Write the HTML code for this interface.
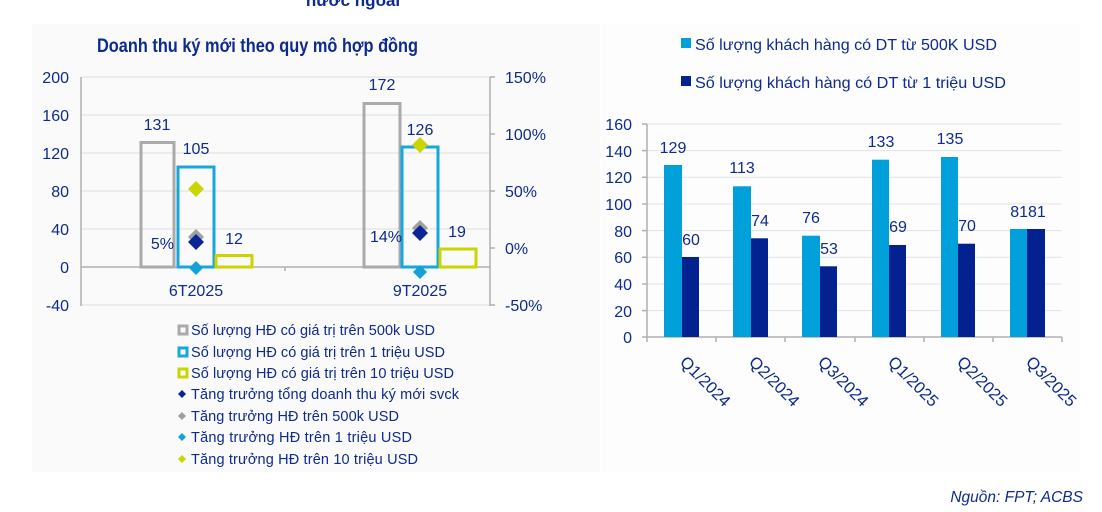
<!DOCTYPE html>
<html><head><meta charset="utf-8"><style>
html,body{margin:0;padding:0;background:#fff;}
svg{display:block;}
text{font-family:"Liberation Sans","DejaVu Sans",sans-serif;fill:#0d2a8c;}
</style></head><body>
<svg width="1102" height="512" viewBox="0 0 1102 512" xmlns="http://www.w3.org/2000/svg">
<rect x="32" y="24" width="568" height="448" fill="#fafafb"/>
<rect x="602" y="24" width="478" height="448" fill="#fdfdfe"/>
<text x="353" y="6" font-size="17" font-weight="bold" text-anchor="middle">nước ngoài</text>
<text x="97" y="52" font-size="19" font-weight="bold" textLength="321" lengthAdjust="spacingAndGlyphs">Doanh thu ký mới theo quy mô hợp đồng</text>

<!-- left grid -->
<g stroke="#dedede" stroke-width="1">
<line x1="81" y1="77" x2="490" y2="77"/><line x1="81" y1="115" x2="490" y2="115"/>
<line x1="81" y1="153" x2="490" y2="153"/><line x1="81" y1="191" x2="490" y2="191"/>
<line x1="81" y1="229" x2="490" y2="229"/><line x1="81" y1="305" x2="490" y2="305"/>
</g>
<g stroke="#b0b0b0" stroke-width="1.5">
<line x1="81" y1="77" x2="81" y2="306"/><line x1="490" y1="77" x2="490" y2="306"/>
<line x1="81" y1="267" x2="490" y2="267"/><line x1="285" y1="267" x2="285" y2="271"/>
<line x1="490" y1="77" x2="495" y2="77"/><line x1="490" y1="134" x2="495" y2="134"/>
<line x1="490" y1="191" x2="495" y2="191"/><line x1="490" y1="248" x2="495" y2="248"/>
<line x1="490" y1="305" x2="495" y2="305"/>
</g>
<g font-size="16" text-anchor="end">
<text x="69" y="83">200</text><text x="69" y="121">160</text><text x="69" y="159">120</text>
<text x="69" y="197">80</text><text x="69" y="235">40</text><text x="69" y="273">0</text><text x="69" y="311">-40</text>
</g>
<g font-size="16">
<text x="505" y="83">150%</text><text x="505" y="140">100%</text><text x="505" y="197">50%</text>
<text x="505" y="254">0%</text><text x="505" y="311">-50%</text>
</g>
<!-- bars -->
<g fill="none" stroke-width="3">
<rect x="141" y="142.5" width="33" height="124.5" stroke="#aaaaaa"/>
<rect x="178" y="167" width="36" height="100" stroke="#17a6de"/>
<rect x="216" y="255.5" width="36" height="11.5" stroke="#cbd600"/>
<rect x="364" y="103.5" width="36" height="163.5" stroke="#aaaaaa"/>
<rect x="402" y="147" width="36" height="120" stroke="#17a6de"/>
<rect x="440" y="249" width="36" height="18" stroke="#cbd600"/>
</g>
<g font-size="16" text-anchor="middle">
<text x="157" y="130">131</text><text x="196" y="154">105</text><text x="234" y="244">12</text>
<text x="382" y="90">172</text><text x="420" y="135">126</text><text x="457" y="237">19</text>
<text x="174" y="249" text-anchor="end">5%</text><text x="402" y="242" text-anchor="end">14%</text>
<text x="196" y="296">6T2025</text><text x="420" y="296">9T2025</text>
</g>
<!-- diamonds -->
<g>
<path d="M196 181 l8 8 -8 8 -8 -8z" fill="#cbd600"/>
<path d="M196 229 l8 8 -8 8 -8 -8z" fill="#a0a0a0"/>
<path d="M196 234 l8 8 -8 8 -8 -8z" fill="#0b2596"/>
<path d="M196 261 l7 7 -7 7 -7 -7z" fill="#15a1d8"/>
<path d="M420 137 l8 8 -8 8 -8 -8z" fill="#cbd600"/>
<path d="M420 220 l8 8 -8 8 -8 -8z" fill="#a0a0a0"/>
<path d="M420 225 l8 8 -8 8 -8 -8z" fill="#0b2596"/>
<path d="M420 265 l7 7 -7 7 -7 -7z" fill="#15a1d8"/>
</g>
<!-- left legend -->
<g font-size="14.5" lengthAdjust="spacingAndGlyphs">
<rect x="179" y="326" width="8" height="8" fill="none" stroke="#aaaaaa" stroke-width="3"/>
<rect x="179" y="348" width="8" height="8" fill="none" stroke="#17a6de" stroke-width="3"/>
<rect x="179" y="369" width="8" height="8" fill="none" stroke="#cbd600" stroke-width="3"/>
<path d="M182 390 l4 4 -4 4 -4 -4z" fill="#0b2596"/>
<path d="M182 412 l4 4 -4 4 -4 -4z" fill="#a0a0a0"/>
<path d="M182 433 l4 4 -4 4 -4 -4z" fill="#15a1d8"/>
<path d="M182 455 l4 4 -4 4 -4 -4z" fill="#cbd600"/>
<text x="191" y="335" textLength="244">Số lượng HĐ có giá trị trên 500k USD</text>
<text x="191" y="357" textLength="254">Số lượng HĐ có giá trị trên 1 triệu USD</text>
<text x="191" y="378" textLength="263">Số lượng HĐ có giá trị trên 10 triệu USD</text>
<text x="191" y="399" textLength="268">Tăng trưởng tổng doanh thu ký mới svck</text>
<text x="191" y="421" textLength="208">Tăng trưởng HĐ trên 500k USD</text>
<text x="191" y="442" textLength="221">Tăng trưởng HĐ  trên 1 triệu USD</text>
<text x="191" y="464" textLength="227">Tăng trưởng HĐ trên 10 triệu USD</text>
</g>

<!-- right legend -->
<rect x="681" y="38" width="10" height="10" fill="#00a0da"/>
<rect x="681" y="76" width="10" height="10" fill="#03218f"/>
<g font-size="16">
<text x="695" y="50" textLength="302" lengthAdjust="spacingAndGlyphs">Số lượng khách hàng có DT từ 500K USD</text>
<text x="695" y="88" textLength="311" lengthAdjust="spacingAndGlyphs">Số lượng khách hàng có DT từ 1 triệu USD</text>
</g>
<!-- right grid -->
<g stroke="#e2e2e2" stroke-width="1">
<line x1="647" y1="124" x2="1062" y2="124"/><line x1="647" y1="150.6" x2="1062" y2="150.6"/>
<line x1="647" y1="177.3" x2="1062" y2="177.3"/><line x1="647" y1="204" x2="1062" y2="204"/>
<line x1="647" y1="230.6" x2="1062" y2="230.6"/><line x1="647" y1="257.3" x2="1062" y2="257.3"/>
<line x1="647" y1="284" x2="1062" y2="284"/><line x1="647" y1="310.6" x2="1062" y2="310.6"/>
</g>
<g stroke="#b0b0b0" stroke-width="1.5">
<line x1="647" y1="124" x2="647" y2="342"/><line x1="642" y1="337" x2="1062" y2="337"/>
<line x1="716" y1="337" x2="716" y2="342"/><line x1="785" y1="337" x2="785" y2="342"/>
<line x1="855" y1="337" x2="855" y2="342"/><line x1="924" y1="337" x2="924" y2="342"/>
<line x1="993" y1="337" x2="993" y2="342"/><line x1="1062" y1="337" x2="1062" y2="342"/>
<line x1="642" y1="124" x2="647" y2="124"/><line x1="642" y1="150.6" x2="647" y2="150.6"/>
<line x1="642" y1="177.3" x2="647" y2="177.3"/><line x1="642" y1="204" x2="647" y2="204"/>
<line x1="642" y1="230.6" x2="647" y2="230.6"/><line x1="642" y1="257.3" x2="647" y2="257.3"/>
<line x1="642" y1="284" x2="647" y2="284"/><line x1="642" y1="310.6" x2="647" y2="310.6"/>
</g>
<g font-size="16" text-anchor="end">
<text x="632" y="130">160</text><text x="632" y="157">140</text><text x="632" y="183">120</text>
<text x="632" y="210">100</text><text x="632" y="237">80</text><text x="632" y="263">60</text>
<text x="632" y="290">40</text><text x="632" y="317">20</text><text x="632" y="343">0</text>
</g>
<g>
<rect x="664" y="165" width="18" height="172" fill="#00a0da"/><rect x="682" y="257" width="17" height="80" fill="#03218f"/>
<rect x="733" y="186.3" width="18" height="150.7" fill="#00a0da"/><rect x="751" y="238.3" width="17" height="98.7" fill="#03218f"/>
<rect x="802" y="235.7" width="18" height="101.3" fill="#00a0da"/><rect x="820" y="266.3" width="17" height="70.7" fill="#03218f"/>
<rect x="872" y="159.7" width="17" height="177.3" fill="#00a0da"/><rect x="889" y="245" width="17" height="92" fill="#03218f"/>
<rect x="941" y="157" width="17" height="180" fill="#00a0da"/><rect x="958" y="243.7" width="17" height="93.3" fill="#03218f"/>
<rect x="1010" y="229" width="17" height="108" fill="#00a0da"/><rect x="1027" y="229" width="18" height="108" fill="#03218f"/>
</g>
<g font-size="16" text-anchor="middle">
<text x="673" y="153">129</text><text x="691" y="245">60</text>
<text x="742" y="173">113</text><text x="760" y="226">74</text>
<text x="811" y="223">76</text><text x="829" y="254">53</text>
<text x="881" y="147">133</text><text x="898" y="232">69</text>
<text x="950" y="144">135</text><text x="967" y="231">70</text>
<text x="1028" y="217">8181</text>
</g>
<g font-size="16.5">
<text transform="translate(679,363) rotate(45)">Q1/2024</text>
<text transform="translate(748,363) rotate(45)">Q2/2024</text>
<text transform="translate(817,363) rotate(45)">Q3/2024</text>
<text transform="translate(887,363) rotate(45)">Q1/2025</text>
<text transform="translate(956,363) rotate(45)">Q2/2025</text>
<text transform="translate(1025,363) rotate(45)">Q3/2025</text>
</g>
<text x="1083" y="502" font-size="15.5" font-style="italic" text-anchor="end">Nguồn: FPT; ACBS</text>
</svg>
</body></html>
